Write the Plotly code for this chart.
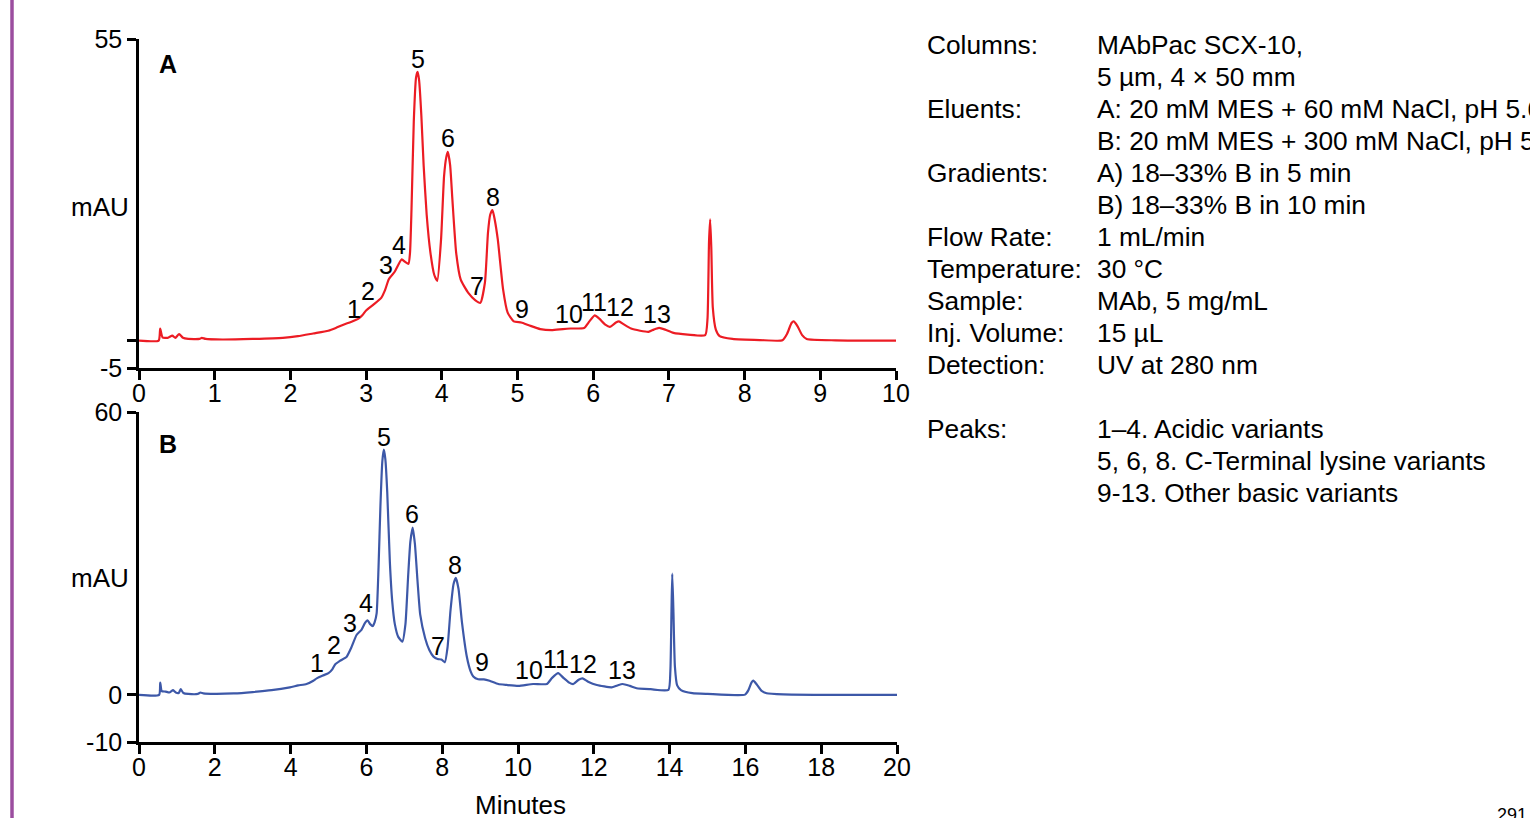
import plotly.graph_objects as go

# ---------------- Data ----------------
time_a = [0.00, 0.26, 0.28, 0.31, 0.38, 0.44, 0.48, 0.53, 0.58, 0.65, 0.80, 0.83, 0.88, 1.10, 1.50,
          1.90, 2.10, 2.30, 2.50, 2.60, 2.70, 2.80, 2.90, 2.95, 3.00, 3.10, 3.20, 3.25, 3.30, 3.38,
          3.47, 3.52, 3.56, 3.58, 3.60, 3.63, 3.66, 3.68, 3.70, 3.73, 3.76, 3.80, 3.85, 3.90, 3.94,
          3.99, 4.03, 4.06, 4.08, 4.11, 4.14, 4.19, 4.25, 4.35, 4.44, 4.51, 4.57, 4.61, 4.64, 4.67,
          4.70, 4.74, 4.81, 4.87, 4.95, 5.05, 5.15, 5.30, 5.45, 5.60, 5.70, 5.88, 5.95, 6.02, 6.08,
          6.16, 6.22, 6.30, 6.34, 6.40, 6.50, 6.62, 6.73, 6.80, 6.87, 6.95, 7.06, 7.25, 7.48, 7.51,
          7.53, 7.545, 7.56, 7.58, 7.62, 7.67, 7.84, 8.20, 8.50, 8.56, 8.62, 8.65, 8.70, 8.76, 8.82,
          9.20, 10.00]
abs_a = [0.0, 0.0, 2.2, 0.6, 0.5, 0.9, 0.5, 1.2, 0.5, 0.3, 0.3, 0.5, 0.3, 0.2, 0.3,
         0.5, 0.8, 1.3, 1.8, 2.3, 2.9, 3.4, 4.0, 4.6, 5.5, 6.6, 7.8, 9.2, 11.2, 12.6,
         14.8, 14.3, 14.0, 16.0, 24.0, 40.0, 48.0, 49.0, 47.5, 41.0, 32.0, 23.0, 16.0, 12.0, 10.9,
         18.4, 30.0, 33.5, 34.4, 32.0, 25.7, 16.0, 11.1, 8.7, 7.4, 6.9, 10.6, 19.7, 23.0, 23.8,
         22.0, 18.4, 9.3, 5.1, 3.5, 3.3, 2.8, 2.1, 1.9, 2.1, 2.2, 2.3, 3.5, 4.6, 4.0,
         2.9, 2.5, 3.3, 3.5, 3.0, 2.2, 1.8, 1.6, 2.0, 2.3, 2.0, 1.4, 1.1, 1.0, 4.0,
         18.0, 22.1, 17.0, 6.0, 2.0, 0.8, 0.3, 0.1, 0.05, 1.2, 3.2, 3.5, 2.6, 1.0, 0.3,
         0.05, 0.0]

time_b = [0.00, 0.53, 0.56, 0.60, 0.70, 0.80, 0.90, 0.97, 1.05, 1.10, 1.17, 1.30, 1.55, 1.62, 1.70,
          2.00, 2.50, 3.00, 3.50, 3.98, 4.20, 4.42, 4.60, 4.69, 4.85, 5.00, 5.10, 5.17, 5.30, 5.48,
          5.60, 5.74, 5.87, 5.96, 6.03, 6.10, 6.17, 6.22, 6.27, 6.32, 6.37, 6.42, 6.46, 6.50, 6.55,
          6.62, 6.68, 6.75, 6.84, 6.95, 7.03, 7.10, 7.16, 7.22, 7.28, 7.35, 7.42, 7.55, 7.66, 7.77,
          7.88, 7.98, 8.07, 8.14, 8.22, 8.30, 8.36, 8.43, 8.52, 8.65, 8.75, 8.82, 8.95, 9.10, 9.25,
          9.48, 9.70, 10.01, 10.40, 10.76, 10.90, 11.06, 11.20, 11.35, 11.46, 11.60, 11.70, 11.85, 12.08, 12.47,
          12.62, 12.76, 12.95, 13.13, 13.50, 13.97, 14.02, 14.05, 14.07, 14.10, 14.14, 14.20, 14.30, 14.60, 15.00,
          15.99, 16.08, 16.16, 16.21, 16.30, 16.42, 16.56, 17.00, 18.00, 20.00]
abs_b = [0.0, 0.0, 2.6, 0.8, 0.7, 0.5, 1.0, 0.5, 0.4, 1.2, 0.4, 0.2, 0.2, 0.5, 0.3,
         0.2, 0.3, 0.6, 1.0, 1.6, 2.0, 2.3, 3.0, 3.5, 4.1, 4.6, 5.4, 6.4, 7.2, 8.1,
         10.0, 12.7, 13.8, 15.2, 15.8, 15.0, 14.6, 15.5, 17.3, 27.0, 40.0, 49.5, 52.0, 50.0, 43.0,
         28.0, 20.0, 15.0, 12.3, 11.3, 15.0, 25.0, 32.5, 35.5, 32.0, 24.0, 17.0, 12.0, 9.5, 8.1,
         7.6, 7.5, 6.9, 10.0, 18.0, 23.5, 24.8, 22.5, 15.5, 8.1, 5.0, 3.9, 3.3, 3.3, 3.0,
         2.3, 2.1, 1.9, 2.3, 2.3, 3.6, 4.6, 3.6, 2.6, 2.3, 3.2, 3.5, 2.8, 2.1, 1.6,
         2.0, 2.3, 1.9, 1.4, 1.2, 1.06, 5.0, 18.0, 25.7, 18.0, 6.0, 2.0, 1.0, 0.35, 0.2,
         0.05, 1.0, 2.6, 3.0, 2.2, 0.9, 0.35, 0.1, 0.0, 0.0]

peak_labels = ["1", "2", "3", "4", "5", "6", "7", "8", "9", "10", "11", "12", "13"]
label_t_a = [2.84, 3.02, 3.26, 3.43, 3.69, 4.08, 4.46, 4.68, 5.06, 5.68, 6.01, 6.35, 6.84]
label_v_a = [5.7, 9.1, 13.7, 17.5, 51.3, 37.0, 9.9, 26.1, 5.8, 4.9, 7.1, 6.2, 4.9]
label_t_b = [4.70, 5.14, 5.57, 5.99, 6.46, 7.20, 7.89, 8.34, 9.05, 10.29, 11.00, 11.71, 12.74]
label_v_b = [6.8, 10.6, 15.3, 19.5, 54.8, 38.4, 10.4, 27.6, 7.0, 5.3, 7.6, 6.6, 5.3]

xticks_a = [0, 1, 2, 3, 4, 5, 6, 7, 8, 9, 10]
xticks_b = [0, 2, 4, 6, 8, 10, 12, 14, 16, 18, 20]
yticks_a = [-5, 0, 55]
yticklabels_a = ["-5", "", "55"]
yticks_b = [-10, 0, 60]
yticklabels_b = ["-10", "0", "60"]

info_keys = ["Columns:", "", "Eluents:", "", "Gradients:", "", "Flow Rate:", "Temperature:",
             "Sample:", "Inj. Volume:", "Detection:", "", "Peaks:", "", ""]
info_vals = ["MAbPac SCX-10,", "5 µm, 4 × 50 mm", "A: 20 mM MES + 60 mM NaCl, pH 5.6",
             "B: 20 mM MES + 300 mM NaCl, pH 5.6", "A) 18–33% B in 5 min", "B) 18–33% B in 10 min",
             "1 mL/min", "30 °C", "MAb, 5 mg/mL", "15 µL", "UV at 280 nm", "",
             "1–4. Acidic variants", "5, 6, 8. C-Terminal lysine variants", "9-13. Other basic variants"]

# ---------------- Figure ----------------
W, H = 1530, 818
FONT = "Liberation Sans, Arial, Helvetica, sans-serif"
RED = "#ec1c24"
BLUE = "#3d58a8"

fig = go.Figure()
fig.add_trace(go.Scatter(x=time_a, y=abs_a, mode="lines", xaxis="x", yaxis="y",
                         line=dict(color=RED, width=2.2, shape="spline", smoothing=0.5),
                         showlegend=False, hoverinfo="skip"))
fig.add_trace(go.Scatter(x=time_b, y=abs_b, mode="lines", xaxis="x2", yaxis="y2",
                         line=dict(color=BLUE, width=2.2, shape="spline", smoothing=0.5),
                         showlegend=False, hoverinfo="skip"))

def px_x(p):
    return p / W

def px_y(p):
    return 1 - p / H

axis_common = dict(showline=True, linecolor="black", linewidth=2.5, ticks="outside",
                   ticklen=9, tickwidth=2.5, tickcolor="black", showgrid=False, zeroline=False,
                   automargin=False,
                   tickfont=dict(family=FONT, size=25, color="black"), mirror=False)

fig.update_layout(
    width=W, height=H, margin=dict(l=0, r=0, t=0, b=0, pad=0, autoexpand=False),
    paper_bgcolor="white", plot_bgcolor="white",
    xaxis=dict(domain=[px_x(139), px_x(896)], range=[0, 10], tickvals=xticks_a,
               anchor="y", ticklabelstandoff=-8, **axis_common),
    yaxis=dict(domain=[px_y(368), px_y(39)], range=[-5, 55], tickvals=yticks_a,
               ticktext=yticklabels_a, anchor="x", **axis_common),
    xaxis2=dict(domain=[px_x(139), px_x(897)], range=[0, 20], tickvals=xticks_b,
                anchor="y2", ticklabelstandoff=-8, **axis_common),
    yaxis2=dict(domain=[px_y(742), px_y(412)], range=[-10, 60], tickvals=yticks_b,
                ticktext=yticklabels_b, anchor="x2", **axis_common),
)

def txt(x, y, text, size, xref="paper", yref="paper", xanchor="center"):
    return dict(x=x, y=y, xref=xref, yref=yref, text=text, showarrow=False,
                xanchor=xanchor, yanchor="middle",
                font=dict(family=FONT, size=size, color="black"))

ann = []
for lab, t, v in zip(peak_labels, label_t_a, label_v_a):
    ann.append(txt(t, v, lab, 25, "x", "y"))
for lab, t, v in zip(peak_labels, label_t_b, label_v_b):
    ann.append(txt(t, v, lab, 25, "x2", "y2"))

ann.append(txt(px_x(168), px_y(64), "<b>A</b>", 25))
ann.append(txt(px_x(168), px_y(444), "<b>B</b>", 25))
ann.append(txt(px_x(100), px_y(207), "mAU", 26))
ann.append(txt(px_x(100), px_y(578), "mAU", 26))
ann.append(txt(px_x(520), px_y(805), "Minutes", 26))

line_y = [45, 77, 109, 141, 173, 205, 237, 269, 301, 333, 365, 397, 429, 461, 493]
for k, v, yy in zip(info_keys, info_vals, line_y):
    if k:
        ann.append(txt(px_x(925), px_y(yy), k, 26.3, xanchor="left"))
    if v:
        ann.append(txt(px_x(1095), px_y(yy), v, 26.3, xanchor="left"))

ann.append(txt(px_x(1495), px_y(815), "291", 18, xanchor="left"))

fig.update_layout(annotations=ann)
fig.add_shape(type="line", xref="paper", yref="paper", x0=px_x(12), x1=px_x(12), y0=0, y1=1,
              line=dict(color="#9b4e9f", width=3.5))

fig.write_html("out.html", config={"displayModeBar": False},
               post_script="document.body.style.margin='0';document.body.style.overflow='hidden';")
